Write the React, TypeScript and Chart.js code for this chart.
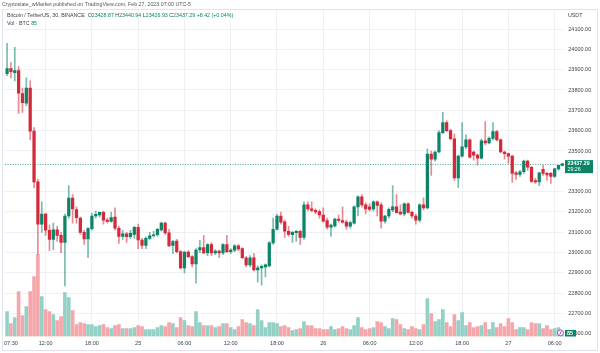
import React, { useEffect, useRef } from "react";
import { Chart, registerables } from "chart.js";

Chart.register(...registerables);

// ---------- DATA (30-minute candles, Feb 24 07:00 -> Feb 27 07:00, BTC/USDT) ----------
const OPEN: number[] = [
  23880, 23905, 23885, 23895, 23782, 23735, 23810, 23598, 23348, 23140,
  23190, 23110, 23065, 23112, 23085, 23050, 23180, 23268, 23212, 23170,
  23100, 23067, 23118, 23180, 23186, 23198, 23160, 23154, 23175, 23120,
  23080, 23092, 23078, 23090, 23125, 23062, 23035, 23070, 23083, 23088,
  23112, 23145, 23097, 23035, 23057, 23005, 22925, 23003, 22980, 22945,
  23013, 23025, 22998, 23040, 22998, 23008, 22998, 23040, 23005, 23012,
  23033, 23020, 22975, 22940, 22975, 22915, 22925, 22930, 22935, 23048,
  23115, 23180, 23152, 23105, 23088, 23098, 23105, 23075, 23235, 23215,
  23208, 23202, 23185, 23158, 23125, 23132, 23165, 23158, 23150, 23130,
  23145, 23225, 23275, 23235, 23225, 23215, 23250, 23235, 23155, 23180,
  23210, 23225, 23200, 23190, 23240, 23198, 23180, 23160, 23235, 23220,
  23485, 23460, 23495, 23590, 23640, 23600, 23560, 23367, 23475, 23520,
  23555, 23495, 23480, 23465, 23550, 23540, 23562, 23595, 23555, 23495,
  23487, 23475, 23392, 23385, 23398, 23450, 23420, 23355, 23348, 23410,
  23390, 23390, 23375, 23412, 23428.87,
];
const HIGH: number[] = [
  24030, 23935, 24010, 23915, 23810, 23860, 23845, 23615, 23360, 23250,
  23195, 23135, 23145, 23130, 23100, 23190, 23330, 23285, 23225, 23175,
  23110, 23125, 23195, 23205, 23200, 23205, 23170, 23200, 23220, 23130,
  23110, 23100, 23110, 23130, 23140, 23070, 23078, 23100, 23105, 23120,
  23150, 23150, 23115, 23060, 23065, 23010, 23005, 23010, 22985, 23020,
  23060, 23085, 23045, 23050, 23015, 23012, 23045, 23085, 23020, 23040,
  23040, 23025, 22980, 22985, 22995, 22935, 22940, 22945, 23055, 23170,
  23190, 23200, 23160, 23130, 23105, 23110, 23110, 23250, 23250, 23250,
  23215, 23210, 23220, 23170, 23140, 23170, 23185, 23225, 23160, 23155,
  23230, 23280, 23285, 23245, 23240, 23255, 23255, 23245, 23185, 23220,
  23330, 23285, 23235, 23245, 23245, 23205, 23190, 23240, 23270, 23510,
  23500, 23500, 23600, 23690, 23650, 23608, 23585, 23480, 23640, 23580,
  23560, 23500, 23485, 23560, 23645, 23570, 23640, 23600, 23560, 23500,
  23490, 23480, 23400, 23405, 23455, 23455, 23425, 23365, 23395, 23430,
  23395, 23395, 23415, 23430, 23440.94,
];
const LOW: number[] = [
  23870, 23860, 23845, 23685, 23690, 23722, 23555, 23320, 22990, 23100,
  23085, 23010, 23015, 23055, 23000, 22836, 23170, 23145, 23145, 23090,
  23040, 22975, 23110, 23170, 23175, 23140, 23145, 23150, 23110, 23045,
  23065, 23050, 23070, 23070, 23020, 23020, 23020, 23065, 23075, 23080,
  23105, 23090, 23030, 22995, 22998, 22920, 22900, 22975, 22930, 22850,
  23000, 22995, 22985, 22985, 22990, 22975, 22990, 23000, 22995, 23005,
  23010, 22970, 22930, 22930, 22910, 22855, 22840, 22880, 22930, 23040,
  23110, 23140, 23075, 23080, 23050, 23055, 23040, 23065, 23205, 23200,
  23190, 23170, 23150, 23115, 23080, 23125, 23150, 23145, 23115, 23120,
  23140, 23180, 23225, 23190, 23205, 23205, 23180, 23120, 23145, 23170,
  23200, 23195, 23185, 23180, 23195, 23170, 23140, 23150, 23210, 23215,
  23380, 23450, 23490, 23585, 23595, 23555, 23355, 23320, 23470, 23510,
  23465, 23455, 23430, 23460, 23530, 23535, 23555, 23550, 23490, 23460,
  23440, 23345, 23360, 23375, 23390, 23405, 23345, 23340, 23330, 23380,
  23355, 23340, 23370, 23405, 23426.93,
];
const CLOSE: number[] = [
  23905, 23890, 23895, 23785, 23738, 23810, 23598, 23348, 23140, 23190,
  23110, 23065, 23112, 23085, 23050, 23180, 23268, 23215, 23172, 23100,
  23067, 23118, 23180, 23188, 23198, 23160, 23154, 23172, 23120, 23080,
  23092, 23078, 23095, 23125, 23062, 23035, 23070, 23083, 23088, 23115,
  23145, 23097, 23033, 23055, 23005, 22925, 23003, 22980, 22945, 23013,
  23025, 22998, 23040, 22998, 23008, 22998, 23040, 23005, 23012, 23033,
  23018, 22975, 22940, 22975, 22915, 22925, 22933, 22940, 23048, 23115,
  23180, 23150, 23105, 23090, 23100, 23105, 23075, 23235, 23215, 23208,
  23200, 23185, 23155, 23125, 23135, 23165, 23158, 23150, 23130, 23148,
  23225, 23275, 23235, 23215, 23212, 23250, 23232, 23155, 23180, 23213,
  23225, 23197, 23190, 23240, 23198, 23180, 23160, 23235, 23220, 23485,
  23460, 23495, 23590, 23640, 23600, 23560, 23367, 23475, 23520, 23555,
  23470, 23480, 23465, 23550, 23540, 23562, 23595, 23555, 23495, 23487,
  23475, 23390, 23385, 23398, 23450, 23420, 23350, 23348, 23392, 23390,
  23382, 23375, 23412, 23428.87, 23437.29,
];
// volume in BTC
const VOLUME: number[] = [
  2500, 1300, 1900, 4500, 2100, 3000, 4500, 6000, 8200, 4000,
  2700, 2500, 2200, 1600, 2000, 4400, 3900, 2600, 1200, 1400,
  1300, 1200, 1200, 1000, 1100, 1200, 900, 800, 1100, 1200,
  800, 800, 800, 900, 1100, 1000, 700, 700, 700, 900,
  1100, 1000, 1400, 1300, 900, 1900, 1600, 1100, 1000, 2500,
  1400, 1100, 1100, 1100, 900, 1000, 1300, 1300, 900, 700,
  1000, 1700, 1400, 1300, 1100, 2700, 1600, 900, 1400, 1400,
  1300, 1000, 1100, 900, 600, 700, 800, 1500, 1100, 1100,
  800, 800, 700, 700, 1000, 700, 800, 1000, 800, 700,
  1100, 1900, 900, 700, 800, 900, 1500, 1400, 1000, 800,
  1800, 1700, 1200, 800, 700, 1000, 800, 700, 1200, 3800,
  2300, 1500, 1700, 2700, 1400, 1000, 2200, 1600, 2400, 1100,
  1400, 900, 1000, 1100, 1400, 700, 1400, 900, 1300, 1000,
  1800, 1400, 700, 900, 900, 700, 1400, 1300, 1300, 800,
  1100, 700, 800, 900, 85,
];

const pad2 = (n: number) => String(n).padStart(2, "0");
// one category per 30-minute candle, starting Feb 24 07:00
const CATEGORIES: string[] = OPEN.map((_, i) => {
  const m = 7 * 60 + i * 30;
  const day = 24 + Math.floor(m / 1440);
  const mm = m % 1440;
  return `Feb ${day} ${pad2(Math.floor(mm / 60))}:${pad2(mm % 60)}`;
});

const TICK_CATEGORIES: string[] = [
  "Feb 24 07:30", "Feb 24 12:00", "Feb 24 18:00", "Feb 25 00:00", "Feb 25 06:00",
  "Feb 25 12:00", "Feb 25 18:00", "Feb 26 00:00", "Feb 26 06:00", "Feb 26 12:00",
  "Feb 26 18:00", "Feb 27 00:00", "Feb 27 06:00",
];
const TICK_TEXT: string[] = [
  "07:30", "12:00", "18:00", "25", "06:00", "12:00", "18:00", "26", "06:00", "12:00", "18:00", "27", "06:00",
];
const PRICE_TICKS: number[] = [
  24100, 24000, 23900, 23800, 23700, 23600, 23500, 23300, 23200, 23100, 23000, 22900, 22800, 22700, 22600,
];

const HEADER = "Cryptoslate_wMarket published on TradingView.com, Feb 27, 2023 07:00 UTC-5";
const SYMBOL = "Bitcoin / TetherUS, 30, BINANCE";
const COUNTDOWN = "29:26";

// ---------- STYLE ----------
const UP = "#0b8468";
const DOWN = "#d3293b";
const UP_WICK = "rgba(11,132,104,0.55)";
const DOWN_WICK = "rgba(211,41,59,0.55)";
const UP_VOL = "#93d1c6";
const DOWN_VOL = "#f4a6aa";
const GRID = "#eef0f4";
const TEXT = "#3a3d45";
const FONT = "'Liberation Sans', Arial, sans-serif";

export default function App() {
  const ref = useRef<HTMLCanvasElement | null>(null);

  useEffect(() => {
    const canvas = ref.current;
    if (!canvas) return;
    const n = CLOSE.length;
    const up = CLOSE.map((c, i) => c >= OPEN[i]);
    const lastO = OPEN[n - 1], lastH = HIGH[n - 1], lastL = LOW[n - 1], lastC = CLOSE[n - 1];
    const change = lastC - CLOSE[n - 2];
    const pct = (change / CLOSE[n - 2]) * 100;
    const lastVol = VOLUME[n - 1];

    const overlay = {
      id: "tvOverlay",
      beforeDatasetsDraw(chart: any) {
        const ctx = chart.ctx;
        const { left, right } = chart.chartArea;
        const y = chart.scales.y.getPixelForValue(lastC);
        ctx.save();
        ctx.strokeStyle = "rgba(11,132,104,0.75)";
        ctx.lineWidth = 1;
        ctx.setLineDash([1, 1.5]);
        ctx.beginPath();
        ctx.moveTo(left, Math.round(y) + 0.5);
        ctx.lineTo(right, Math.round(y) + 0.5);
        ctx.stroke();
        ctx.restore();
      },
      afterDraw(chart: any) {
        const ctx = chart.ctx;
        ctx.save();
        // frame
        ctx.strokeStyle = "#e0e3eb";
        ctx.lineWidth = 1;
        ctx.strokeRect(2.5, 9.5, 595, 341);
        ctx.textBaseline = "middle";
        ctx.textAlign = "left";
        // header
        ctx.font = `5.3px ${FONT}`;
        ctx.fillStyle = "#555";
        ctx.fillText(HEADER, 2, 4.5);
        // legend line 1
        const segs: [string, string][] = [
          [SYMBOL + "  ", TEXT],
          ["O", TEXT], [lastO.toFixed(2) + " ", UP],
          ["H", TEXT], [lastH.toFixed(2) + " ", UP],
          ["L", TEXT], [lastL.toFixed(2) + " ", UP],
          ["C", TEXT], [lastC.toFixed(2) + " ", UP],
          [`${change >= 0 ? "+" : ""}${change.toFixed(2)} (${pct >= 0 ? "+" : ""}${pct.toFixed(2)}%)`, UP],
        ];
        let x = 7;
        ctx.font = `5.3px ${FONT}`;
        for (const [t, c] of segs) {
          ctx.fillStyle = c;
          ctx.fillText(t, x, 15.5);
          x += ctx.measureText(t).width;
        }
        // legend line 2
        x = 7;
        ctx.fillStyle = TEXT;
        ctx.fillText("Vol · BTC ", x, 23.5);
        x += ctx.measureText("Vol · BTC ").width;
        ctx.fillStyle = UP;
        ctx.fillText(String(lastVol), x, 23.5);
        // currency
        ctx.fillStyle = TEXT;
        ctx.fillText("USDT", 568, 16);
        // last price label
        const yP = chart.scales.y.getPixelForValue(lastC);
        ctx.fillStyle = UP;
        ctx.fillRect(565, yP - 3.6, 28, 13);
        ctx.fillStyle = "#ffffff";
        ctx.font = `bold 5.3px ${FONT}`;
        ctx.fillText(lastC.toFixed(2), 567.5, yP);
        ctx.font = `5.3px ${FONT}`;
        ctx.fillText(COUNTDOWN, 567.5, yP + 5.6);
        // volume label
        const yV = Math.min(chart.scales.yv.getPixelForValue(lastVol), chart.chartArea.bottom - 3.3);
        ctx.fillStyle = UP;
        ctx.fillRect(565, yV - 3.3, 11, 6.6);
        ctx.fillStyle = "#ffffff";
        ctx.font = `bold 5.3px ${FONT}`;
        ctx.fillText(String(lastVol), 567, yV);
        // small event icon
        ctx.beginPath();
        ctx.arc(560.5, yV - 0.3, 3, 0, Math.PI * 2);
        ctx.fillStyle = "#ffffff";
        ctx.fill();
        ctx.strokeStyle = "#8e44ad";
        ctx.lineWidth = 0.9;
        ctx.stroke();
        ctx.beginPath();
        ctx.moveTo(561.3, yV - 2);
        ctx.lineTo(559.8, yV + 1.4);
        ctx.stroke();
        ctx.restore();
      },
    };

    const chart = new Chart(canvas, {
      type: "bar",
      data: {
        labels: CATEGORIES,
        datasets: [
          {
            label: "Body",
            data: OPEN.map((o, i) => [o, CLOSE[i]]) as any,
            backgroundColor: up.map((u) => (u ? UP : DOWN)),
            barThickness: 2.6,
            minBarLength: 1,
            grouped: false,
            yAxisID: "y",
            order: 1,
          },
          {
            label: "Wick",
            data: LOW.map((l, i) => [l, HIGH[i]]) as any,
            backgroundColor: up.map((u) => (u ? UP_WICK : DOWN_WICK)),
            barThickness: 1,
            grouped: false,
            yAxisID: "y",
            order: 2,
          },
          {
            label: "Volume",
            data: VOLUME,
            backgroundColor: up.map((u) => (u ? UP_VOL : DOWN_VOL)),
            barThickness: 3,
            grouped: false,
            yAxisID: "yv",
            order: 3,
          },
        ],
      },
      options: {
        animation: false,
        responsive: true,
        maintainAspectRatio: false,
        events: [],
        layout: { padding: { left: 2.5, top: 9, right: 0, bottom: 0 } },
        plugins: { legend: { display: false }, tooltip: { enabled: false } },
        scales: {
          x: {
            type: "category",
            offset: true,
            grid: {
              offset: false,
              drawTicks: false,
              color: (c: any) => (c.index === 0 ? "rgba(0,0,0,0)" : GRID),
            },
            border: { display: false },
            ticks: {
              autoSkip: false,
              maxRotation: 0,
              minRotation: 0,
              padding: 4,
              color: TEXT,
              font: { family: FONT, size: 5.5 },
              callback: (_v: any, idx: number) => TICK_TEXT[idx],
            },
            afterBuildTicks: (s: any) => {
              s.ticks = TICK_CATEGORIES.map((c) => ({ value: CATEGORIES.indexOf(c) }));
            },
            afterFit: (s: any) => {
              s.height = 16.5;
            },
          },
          y: {
            position: "right",
            min: 22587.5,
            max: 24198.4,
            grid: { color: GRID, drawTicks: false },
            border: { display: false },
            ticks: {
              padding: 4,
              color: TEXT,
              font: { family: FONT, size: 5.5 },
              callback: (v: any) => Number(v).toFixed(2),
            },
            afterBuildTicks: (s: any) => {
              s.ticks = PRICE_TICKS.map((v) => ({ value: v }));
            },
            afterFit: (s: any) => {
              s.width = 35.7;
            },
          },
          yv: { display: false, min: 0, max: 32750 },
        },
      } as any,
      plugins: [overlay],
    });
    return () => chart.destroy();
  }, []);

  return (
    <div style={{ position: "fixed", left: 0, top: 0, width: 600, height: 353, background: "#ffffff" }}>
      <canvas ref={ref} />
    </div>
  );
}
